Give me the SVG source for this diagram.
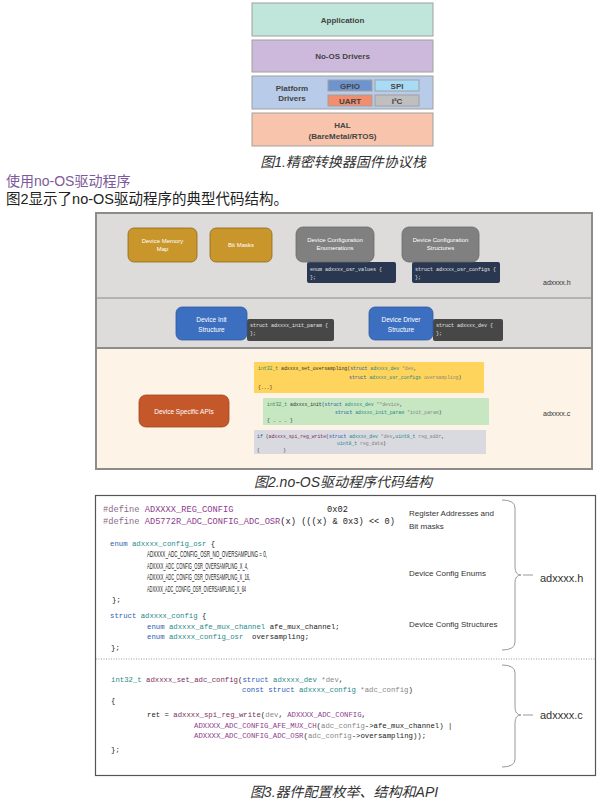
<svg xmlns="http://www.w3.org/2000/svg" width="615" height="802" viewBox="0 0 615 802">
<style>
.s1{stroke:#a0a0a0;stroke-width:1}
.t1{font-family:"Liberation Sans",Arial,sans-serif;font-weight:bold;font-size:8px;fill:#444;text-anchor:middle}
.cap{font-family:"Liberation Sans","Noto Sans CJK SC",sans-serif;font-style:italic;font-size:14px;fill:#333;text-anchor:middle}
.nt{font-family:"Liberation Sans",Arial,sans-serif;font-size:6px;fill:#fff;text-anchor:middle}
.nt2{font-family:"Liberation Sans",Arial,sans-serif;font-size:6.5px;fill:#fff;text-anchor:middle}
.cw{font-family:"Liberation Mono",monospace;font-size:5px;fill:#e6e6e6}
.c2{font-family:"Liberation Mono",monospace;font-size:4.8px;fill:#333}
.m9{font-family:"Liberation Mono",monospace;font-size:8.7px;fill:#222}
.m7{font-family:"Liberation Mono",monospace;font-size:7.3px;fill:#222}
.mn{font-family:"Liberation Sans",Arial,sans-serif;font-size:8.5px;fill:#222}
.lb{font-family:"Liberation Sans",Arial,sans-serif;font-size:8px;fill:#333}
.fl{font-family:"Liberation Sans",Arial,sans-serif;font-size:11px;fill:#333}
.kw{fill:#2b5cb0}.ty{fill:#2a8a8a}.pp{fill:#8d3b8d}.gy{fill:#888}.df{fill:#8a6a8a}.fn{fill:#7a2f5a}
.brace{fill:none;stroke:#999;stroke-width:1}
</style>

<!-- Figure 1 -->
<g id="fig1">
  <g id="application"><rect x="252" y="3" width="181" height="33" fill="#c0e5da" class="s1"/><text x="342.5" y="22.5" class="t1">Application</text></g>
  <g id="noos"><rect x="252" y="40" width="181" height="32" fill="#cdb9dc" class="s1"/><text x="342.5" y="59" class="t1">No-OS Drivers</text></g>
  <g id="platform"><rect x="252" y="76" width="181" height="33" fill="#b8cbe8" class="s1"/>
    <text x="292" y="91" class="t1">Platform</text><text x="292" y="101" class="t1">Drivers</text></g>
  <g id="gpio"><rect x="328" y="80" width="44" height="11" fill="#6d94cf" class="s1"/><text x="350" y="88.5" class="t1">GPIO</text></g>
  <g id="spi"><rect x="375" y="80" width="44" height="11" fill="#a8dcf6" class="s1"/><text x="397" y="88.5" class="t1">SPI</text></g>
  <g id="uart"><rect x="328" y="95" width="44" height="11" fill="#f28d6d" class="s1"/><text x="350" y="103.5" class="t1">UART</text></g>
  <g id="i2c"><rect x="375" y="95" width="44" height="11" fill="#bfbfbf" class="s1"/><text x="397" y="103.5" class="t1">I²C</text></g>
  <g id="hal"><rect x="252" y="113" width="181" height="33" fill="#f8c4ac" class="s1"/>
    <text x="342.5" y="127.5" class="t1">HAL</text><text x="342.5" y="139" class="t1">(BareMetal/RTOS)</text></g>
  <text x="343" y="167" class="cap">图1.精密转换器固件协议栈</text>
</g>

<text x="6" y="186" font-family="'Liberation Sans','Noto Sans CJK SC',sans-serif" font-size="14" fill="#7d5a9b">使用no-OS驱动程序</text>
<text x="6" y="204" font-family="'Liberation Sans','Noto Sans CJK SC',sans-serif" font-size="14.5" fill="#222">图2显示了no-OS驱动程序的典型代码结构。</text>

<!-- Figure 2 -->
<g id="fig2">
  <rect x="96" y="213" width="496" height="256" fill="#dedbdb" stroke="#8c8c8c" stroke-width="2"/>
  <rect x="97" y="349" width="494" height="119" fill="#fdf3e6"/>
  <line x1="97" y1="298" x2="591" y2="298" stroke="#a6a6a6" stroke-width="1.5"/>
  <line x1="97" y1="348" x2="591" y2="348" stroke="#8c8c8c" stroke-width="2"/>

  <g id="memmap"><rect x="128" y="228" width="69" height="34" rx="6" fill="#c9962c" stroke="#8d6a1f" stroke-width="0.8"/>
    <text x="162.5" y="243" class="nt">Device Memory</text><text x="162.5" y="251" class="nt">Map</text></g>
  <g id="bitmasks"><rect x="210" y="228" width="62" height="34" rx="6" fill="#c9962c" stroke="#8d6a1f" stroke-width="0.8"/>
    <text x="241" y="247" class="nt">Bit Masks</text></g>
  <g id="enumcode"><rect x="307" y="262" width="89" height="21" rx="2" fill="#2a3750"/>
    <text x="310" y="271" class="cw">enum adxxxx_osr_values {</text><text x="310" y="279" class="cw">};</text></g>
  <g id="enums"><rect x="296" y="227" width="78" height="35" rx="7" fill="#808080" stroke="#6a6a6a" stroke-width="0.8"/>
    <text x="335" y="242" class="nt">Device Configuration</text><text x="335" y="250" class="nt">Enumerations</text></g>
  <g id="structcode"><rect x="412" y="262" width="88" height="21" rx="2" fill="#2a3750"/>
    <text x="415" y="271" class="cw">struct adxxxx_osr_configs {</text><text x="415" y="279" class="cw">};</text></g>
  <g id="structs"><rect x="402" y="227" width="77" height="35" rx="7" fill="#808080" stroke="#6a6a6a" stroke-width="0.8"/>
    <text x="440.5" y="242" class="nt">Device Configuration</text><text x="440.5" y="250" class="nt">Structures</text></g>
  <text x="543" y="284.5" font-family="'Liberation Sans',sans-serif" font-size="7" fill="#333">adxxxx.h</text>

  <g id="initcode"><rect x="247" y="319" width="87" height="22" rx="2" fill="#474747"/>
    <text x="250" y="327" class="cw">struct adxxxx_init_param {</text><text x="250" y="335" class="cw">};</text></g>
  <g id="initstruct"><rect x="176" y="307" width="71" height="33" rx="6" fill="#3d6fc1" stroke="#2f5aa0" stroke-width="0.8"/>
    <text x="211.5" y="322" class="nt2">Device Init</text><text x="211.5" y="332" class="nt2">Structure</text></g>
  <g id="drvcode"><rect x="433" y="319" width="70" height="22" rx="2" fill="#474747"/>
    <text x="436" y="327" class="cw">struct adxxxx_dev {</text><text x="436" y="335" class="cw">};</text></g>
  <g id="drvstruct"><rect x="369" y="307" width="64" height="33" rx="6" fill="#3d6fc1" stroke="#2f5aa0" stroke-width="0.8"/>
    <text x="401" y="322" class="nt2">Device Driver</text><text x="401" y="332" class="nt2">Structure</text></g>

  <g id="apis"><rect x="139" y="395" width="90" height="32" rx="7" fill="#c5582b" stroke="#9e4420" stroke-width="0.8"/>
    <text x="184" y="413.5" class="nt2">Device Specific APIs</text></g>
  <g id="setos"><rect x="254" y="362" width="230" height="31" fill="#fed45c"/>
    <text x="258" y="370" class="c2"><tspan fill="#3a8a4a">int32_t</tspan> adxxxx_set_oversampling(<tspan class="kw">struct</tspan> <tspan class="ty">adxxxx_dev</tspan> <tspan class="gy">*dev</tspan>,</text>
    <text x="349" y="379" class="c2"><tspan class="kw">struct</tspan> <tspan class="ty">adxxxx_osr_configs</tspan> <tspan class="gy">oversampling</tspan>)</text>
    <text x="258" y="389" class="c2">{...}</text></g>
  <g id="init"><rect x="263" y="398" width="226" height="27" fill="#c6e7c1"/>
    <text x="267" y="406" class="c2"><tspan fill="#3a8a4a">int32_t</tspan> adxxxx_init(<tspan class="kw">struct</tspan> <tspan class="ty">adxxxx_dev</tspan> <tspan class="gy">**device</tspan>,</text>
    <text x="335" y="414" class="c2"><tspan class="kw">struct</tspan> <tspan class="ty">adxxxx_init_param</tspan> <tspan class="gy">*init_param</tspan>)</text>
    <text x="267" y="422" class="c2">{ . . . }</text></g>
  <g id="regwrite"><rect x="254" y="430" width="232" height="24" fill="#d9d9e0"/>
    <text x="257" y="438" class="c2"><tspan class="kw">if</tspan> (<tspan class="fn">adxxxx_spi_reg_write</tspan>(<tspan class="kw">struct</tspan> <tspan class="ty">adxxxx_dev</tspan> <tspan class="gy">*dev</tspan>,<tspan class="ty">uint8_t</tspan> <tspan class="gy">reg_addr</tspan>,</text>
    <text x="337" y="445" class="c2"><tspan class="ty">uint8_t</tspan> <tspan class="gy">reg_data</tspan>)</text>
    <text x="257" y="452" class="c2" xml:space="preserve">(        )</text></g>
  <text x="543" y="415.5" font-family="'Liberation Sans',sans-serif" font-size="7" fill="#333">adxxxx.c</text>
  <text x="343" y="487" class="cap">图2.no-OS驱动程序代码结构</text>
</g>

<!-- Figure 3 -->
<g id="fig3">
  <rect x="95.5" y="495.5" width="500" height="280" fill="#fff" stroke="#555" stroke-width="1.2"/>
  <line x1="96" y1="659" x2="595" y2="659" stroke="#999" stroke-width="1" stroke-dasharray="1,1.5"/>

  <g id="hcode">
    <text x="103" y="512" class="m9"><tspan class="df">#define</tspan> <tspan class="pp">ADXXXX_REG_CONFIG</tspan></text>
    <text x="327" y="512" class="m9">0x02</text>
    <text x="103" y="524" class="m9"><tspan class="df">#define</tspan> <tspan class="pp">AD5772R_ADC_CONFIG_ADC_OSR</tspan>(x) (((x) &amp; 0x3) &lt;&lt; 0)</text>
    <text x="110" y="546" class="m7" font-size="8.3"><tspan class="kw">enum</tspan> <tspan class="ty">adxxxx_config_osr</tspan> {</text>
    <text x="147" y="557" class="mn" textLength="120" lengthAdjust="spacingAndGlyphs">ADXXXX_ADC_CONFIG_OSR_NO_OVERSAMPLING = 0,</text>
    <text x="147" y="568.5" class="mn" textLength="101" lengthAdjust="spacingAndGlyphs">ADXXXX_ADC_CONFIG_OSR_OVERSAMPLING_X_4,</text>
    <text x="147" y="580" class="mn" textLength="103" lengthAdjust="spacingAndGlyphs">ADXXXX_ADC_CONFIG_OSR_OVERSAMPLING_X_16,</text>
    <text x="147" y="591.5" class="mn" textLength="99" lengthAdjust="spacingAndGlyphs">ADXXXX_ADC_CONFIG_OSR_OVERSAMPLING_X_64</text>
    <text x="112" y="602" class="m7">};</text>
    <text x="110" y="618" class="m7"><tspan class="kw">struct</tspan> <tspan class="ty">adxxxx_config</tspan> {</text>
    <text x="147" y="628.5" class="m7"><tspan class="kw">enum</tspan> <tspan class="ty">adxxxx_afe_mux_channel</tspan> afe_mux_channel;</text>
    <text x="147" y="638.5" class="m7" xml:space="preserve"><tspan class="kw">enum</tspan> <tspan class="ty">adxxxx_config_osr</tspan>  oversampling;</text>
    <text x="111" y="649.5" class="m7">};</text>
  </g>
  <g id="ccode">
    <text x="111" y="681.5" class="m7"><tspan class="ty">int32_t</tspan> <tspan class="fn">adxxxx_set_adc_config</tspan>(<tspan class="kw">struct</tspan> <tspan class="ty">adxxxx_dev</tspan> <tspan class="gy">*dev</tspan>,</text>
    <text x="242" y="692" class="m7"><tspan class="kw">const struct</tspan> <tspan class="ty">adxxxx_config</tspan> <tspan class="gy">*adc_config</tspan>)</text>
    <text x="111" y="702.5" class="m7">{</text>
    <text x="147" y="716.5" class="m7">ret = <tspan class="fn">adxxxx_spi_reg_write</tspan>(<tspan class="gy">dev</tspan>, <tspan class="pp">ADXXXX_ADC_CONFIG</tspan>,</text>
    <text x="194" y="727.5" class="m7"><tspan class="pp">ADXXXX_ADC_CONFIG_AFE_MUX_CH</tspan>(<tspan class="gy">adc_config</tspan>-&gt;afe_mux_channel) |</text>
    <text x="194" y="738" class="m7"><tspan class="pp">ADXXXX_ADC_CONFIG_ADC_OSR</tspan>(<tspan class="gy">adc_config</tspan>-&gt;oversampling));</text>
    <text x="111" y="752" class="m7">};</text>
  </g>

  <g id="labels">
    <text x="409" y="516" class="lb">Register Addresses and</text>
    <text x="409" y="529" class="lb">Bit masks</text>
    <text x="409" y="576" class="lb">Device Config Enums</text>
    <text x="409" y="627" class="lb">Device Config Structures</text>
  </g>
  <g id="connectors">
    <path class="brace" d="M502,500 Q515,500 515,508 L515,567 Q515,575 521,575 Q515,575 515,583 L515,642 Q515,650 502,650"/>
    <line x1="523" y1="575" x2="533" y2="575" stroke="#999" stroke-width="1"/>
    <path class="brace" d="M502,665 Q515,665 515,673 L515,707 Q515,715 521,715 Q515,715 515,723 L515,759 Q515,767 502,767"/>
    <line x1="523" y1="715" x2="533" y2="715" stroke="#999" stroke-width="1"/>
  </g>
  <text x="540" y="582" class="fl">adxxxx.h</text>
  <text x="540" y="719" class="fl">adxxxx.c</text>
  <text x="344" y="797" class="cap">图3.器件配置枚举、结构和API</text>
</g>
</svg>
